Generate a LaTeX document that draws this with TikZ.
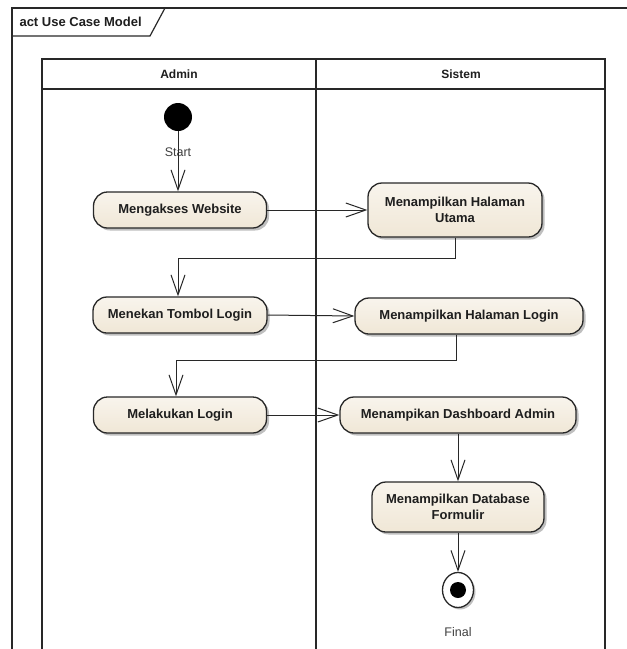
\documentclass[tikz,border=0pt]{standalone}
\usepackage{fontspec}
\setmainfont{Liberation Sans}
\usetikzlibrary{arrows.meta,shadows,shapes.geometric}
\definecolor{actfill}{RGB}{240,231,214}
\definecolor{actline}{RGB}{40,40,40}
\definecolor{ink}{RGB}{30,30,30}
\tikzset{
  action/.style={draw=actline, line width=1.3pt, rounded corners=14pt,
    top color=actfill!45!white, bottom color=actfill,
    minimum height=36pt, inner sep=2pt, align=center, text=ink,
    font=\bfseries\fontsize{13}{16}\selectfont,
    drop shadow={shadow xshift=2.5pt, shadow yshift=-2.5pt, opacity=0.25, fill=black}},
  flow/.style={draw=actline, line width=1pt,
    -{Straight Barb[length=20pt,width=14pt,line width=1pt]}},
  lane/.style={draw=actline, line width=1.4pt},
  lanehead/.style={font=\bfseries\fontsize{12}{14}\selectfont, text=ink},
  caption/.style={font=\fontsize{12.5}{14}\selectfont, text=black!75},
}
\begin{document}
\begin{tikzpicture}[x=1pt,y=-1pt]
  \useasboundingbox (0,0) rectangle (627,649);
  \fill[white] (0,0) rectangle (627,649);

  % diagram frame with its name tab
  \draw[actline, line width=1.2pt] (12,660) -- (12,8) -- (640,8);
  \draw[actline, line width=1.2pt] (12,36) -- (150,36) -- (165,8);
  \node[anchor=west, font=\bfseries\fontsize{13}{15}\selectfont, text=ink] (frametitle) at (16,22) {act Use Case Model};

  % swimlanes
  \draw[lane] (42,660) -- (42,59) -- (605,59) -- (605,660);
  \draw[lane] (42,89) -- (605,89);
  \draw[lane] (316,59) -- (316,660);
  \node[lanehead] (laneA) at (179,74) {Admin};
  \node[lanehead] (laneS) at (461,74) {Sistem};

  % initial node
  \node[circle, fill=black, minimum size=28pt, inner sep=0pt] (st) at (178,117) {};
  \node[caption] (stlabel) at (178,152) {Start};

  % actions
  \node[action, minimum width=173pt] (mw) at (180,210) {Mengakses Website};
  \node[action, minimum width=174pt, minimum height=54pt] (hu) at (455,210) {Menampilkan Halaman\\Utama};
  \node[action, minimum width=174pt] (tl) at (180,315) {Menekan Tombol Login};
  \node[action, minimum width=228pt] (hl) at (469,316) {Menampilkan Halaman Login};
  \node[action, minimum width=173pt] (ml) at (180,415) {Melakukan Login};
  \node[action, minimum width=236pt] (da) at (458,415) {Menampikan Dashboard Admin};
  \node[action, minimum width=172pt, minimum height=50pt] (df) at (458,507) {Menampilkan Database\\Formulir};

  % final node
  \node[ellipse, draw=actline, line width=1.3pt, fill=white, minimum width=31pt, minimum height=35pt,
        drop shadow={shadow xshift=2pt, shadow yshift=-2pt, opacity=0.25, fill=black}] (fin) at (458,590) {};
  \node[circle, fill=black, minimum size=16pt, inner sep=0pt] (findot) at (fin.center) {};
  \node[caption] (finlabel) at (458,632) {Final};

  % control flows
  \draw[flow] (st) -- ([xshift=-2pt]mw.north);
  \draw[flow] (mw.east) -- (hu.west);
  \draw[flow] (hu.south) -- ++(0,21) -| ([xshift=-2pt]tl.north);
  \draw[flow] (tl.east) -- (hl.west);
  \draw[flow] ([xshift=-13pt]hl.south) -- ++(0,26) -| ([xshift=-4pt]ml.north);
  \draw[flow] (ml.east) -- (da.west);
  \draw[flow] (da.south) -- (df.north);
  \draw[flow] (df.south) -- (fin.north);
\end{tikzpicture}
\end{document}
